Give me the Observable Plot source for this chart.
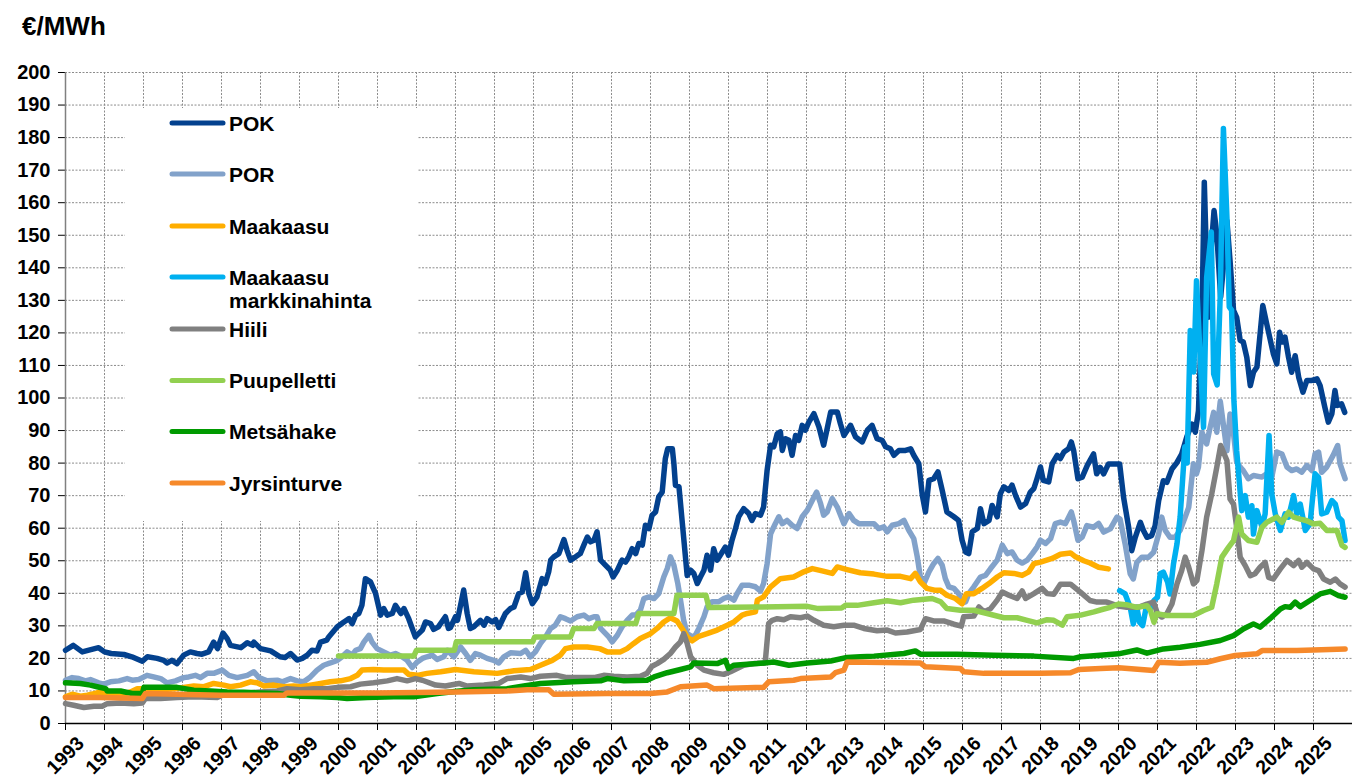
<!DOCTYPE html>
<html><head><meta charset="utf-8">
<script src="https://cdn.jsdelivr.net/npm/d3@7"></script>
<script src="https://cdn.jsdelivr.net/npm/@observablehq/plot@0.6"></script>
<style>
body{margin:0;background:#fff;font-family:"Liberation Sans",Arial,sans-serif;}
#title{height:50px;box-sizing:border-box;padding:13px 0 0 22px;font-weight:bold;font-size:26px;line-height:26px;color:#000;}
</style></head><body>
<div id="title">€/MWh</div>
<div id="chart"></div>
<script>
const yearTicks = d3.range(1993, 2026);
const valueTicks = d3.range(0, 201, 10);
const seriesNames = ["POK","POR","Maakaasu","Maakaasu markkinahinta","Hiili","Puupelletti","Metsähake","Jyrsinturve"];
const seriesColors = ["#03418E","#82A2CA","#FFAE00","#00B0F0","#808080","#92D050","#009A00","#F6892A"];

const POK = [[1993.0,22.5],[1993.2,24],[1993.43,22],[1993.65,22.7],[1993.85,23.3],[1994.0,22],[1994.17,21.5],[1994.5,21.2],[1994.7,20.5],[1994.97,19.1],[1995.1,20.5],[1995.35,20],[1995.52,19.4],[1995.6,18.6],[1995.73,19.4],[1995.86,18.4],[1996.03,21],[1996.2,22],[1996.37,21.5],[1996.5,21.3],[1996.67,22],[1996.8,25],[1996.9,23],[1997.04,27.8],[1997.15,26],[1997.23,24],[1997.5,23.3],[1997.66,24.8],[1997.8,24],[1997.83,25],[1998.0,23],[1998.26,22.3],[1998.5,20.5],[1998.63,20.3],[1998.77,21.5],[1998.94,19.5],[1999.07,20],[1999.2,21],[1999.32,22.5],[1999.45,22.3],[1999.54,25],[1999.7,25.6],[1999.75,26.6],[1999.97,29.7],[2000.14,31.2],[2000.27,32.2],[2000.35,30.7],[2000.44,33.3],[2000.52,33.8],[2000.6,36.3],[2000.69,44.5],[2000.82,43.5],[2000.95,40],[2001.08,33.3],[2001.16,35.3],[2001.25,33.3],[2001.38,33.8],[2001.46,36.3],[2001.6,33.8],[2001.68,35.3],[2001.8,32.2],[2001.97,26.6],[2002.05,27.6],[2002.15,28.7],[2002.23,31.2],[2002.36,30.7],[2002.44,28.9],[2002.56,29.7],[2002.74,32.8],[2002.82,29.2],[2002.87,29.5],[2003.0,32.8],[2003.05,31.7],[2003.21,41],[2003.3,33.8],[2003.38,29.2],[2003.47,29.7],[2003.64,31.7],[2003.73,30.2],[2003.81,32.2],[2003.94,31.2],[2004.03,31.9],[2004.11,29.5],[2004.28,33.8],[2004.41,35.3],[2004.5,35.8],[2004.62,39.9],[2004.71,40.4],[2004.8,46.3],[2004.88,39.9],[2004.97,36.8],[2005.09,38.9],[2005.22,44.5],[2005.3,43],[2005.39,46.6],[2005.44,50.2],[2005.52,51.2],[2005.65,52.2],[2005.78,56.5],[2005.86,53.2],[2005.95,50.2],[2006.08,51.2],[2006.2,52.2],[2006.29,54.8],[2006.38,57.3],[2006.46,55.8],[2006.55,56.3],[2006.63,58.9],[2006.72,50.2],[2006.85,48.6],[2006.97,47.1],[2007.04,45],[2007.15,47.1],[2007.27,50.2],[2007.36,49.6],[2007.44,51.2],[2007.53,53.7],[2007.62,52.2],[2007.7,55.3],[2007.79,54.8],[2007.87,60.9],[2007.96,59.9],[2008.04,64],[2008.13,65],[2008.21,69.6],[2008.3,71.1],[2008.38,81.4],[2008.44,84.4],[2008.56,84.4],[2008.6,79.8],[2008.64,73.2],[2008.73,72.7],[2008.81,62.4],[2008.94,45.5],[2009.03,47.1],[2009.11,46.1],[2009.2,43],[2009.28,45],[2009.37,47.1],[2009.45,51.7],[2009.54,47.1],[2009.62,53.7],[2009.71,50.2],[2009.84,52.7],[2009.92,54.2],[2010.0,51.7],[2010.09,56.3],[2010.18,59.9],[2010.26,63.5],[2010.39,66],[2010.52,64.5],[2010.6,62.4],[2010.69,64.5],[2010.82,64],[2010.9,66.5],[2010.99,77.8],[2011.08,85.5],[2011.16,85],[2011.25,89],[2011.33,89.6],[2011.38,83.9],[2011.46,87.5],[2011.55,87],[2011.63,82.4],[2011.72,88.5],[2011.8,87],[2011.89,91.6],[2011.97,90.1],[2012.06,92.6],[2012.19,95.2],[2012.32,91.1],[2012.44,85.5],[2012.53,90.6],[2012.62,95.7],[2012.79,95.7],[2012.87,92.1],[2012.96,88.5],[2013.13,91.6],[2013.26,88],[2013.43,86.5],[2013.56,90.1],[2013.68,91.6],[2013.81,87.5],[2013.94,87],[2014.03,85],[2014.15,84.4],[2014.24,82.4],[2014.37,83.9],[2014.54,83.9],[2014.67,84.4],[2014.75,82.4],[2014.88,79.8],[2014.97,70.1],[2015.05,65],[2015.14,74.7],[2015.26,75.2],[2015.37,77.3],[2015.48,71.6],[2015.6,65],[2015.78,63.5],[2015.9,62.4],[2015.99,56.3],[2016.08,52.7],[2016.16,52.2],[2016.25,58.9],[2016.38,59.9],[2016.46,66],[2016.55,61.4],[2016.68,62.4],[2016.76,67],[2016.89,63.5],[2016.97,70.6],[2017.06,72.7],[2017.19,71.6],[2017.27,73.2],[2017.36,70.1],[2017.49,66.5],[2017.62,67.6],[2017.74,71.1],[2017.83,72.2],[2017.91,75.2],[2018.0,78.8],[2018.07,74.7],[2018.21,74.2],[2018.3,79.8],[2018.43,82.4],[2018.51,81.4],[2018.6,83.4],[2018.72,84.4],[2018.79,86.5],[2018.85,83.9],[2018.96,75.2],[2019.07,75.7],[2019.2,79.3],[2019.36,82.8],[2019.44,76.7],[2019.53,78.7],[2019.62,76.7],[2019.74,79.7],[2019.87,79.7],[2020.03,79.7],[2020.13,69.5],[2020.26,60.3],[2020.34,53.1],[2020.43,57.2],[2020.56,61.8],[2020.64,59.3],[2020.73,57.2],[2020.85,57.7],[2020.94,60.8],[2021.03,68.5],[2021.15,74.6],[2021.24,74.1],[2021.37,78.2],[2021.5,80.2],[2021.62,82.8],[2021.75,88],[2021.88,92],[2021.97,89.5],[2022.05,96],[2022.14,124.8],[2022.2,166.3],[2022.3,124.8],[2022.37,145],[2022.45,157.6],[2022.52,150.4],[2022.62,131],[2022.72,144.3],[2022.78,154.5],[2022.86,142.2],[2022.95,126.9],[2023.03,124.8],[2023.12,117.7],[2023.2,117.2],[2023.29,112.5],[2023.38,103.8],[2023.46,107.9],[2023.55,109.5],[2023.7,128.4],[2023.8,122.8],[2023.97,113.6],[2024.06,110.5],[2024.13,120.2],[2024.19,117.2],[2024.27,118.7],[2024.36,112.5],[2024.44,107.9],[2024.53,113],[2024.62,106.4],[2024.73,101.8],[2024.83,105.4],[2024.96,105.4],[2025.09,105.9],[2025.17,103.8],[2025.29,97.2],[2025.38,92.6],[2025.47,95.1],[2025.55,102.3],[2025.61,97.7],[2025.72,98.2],[2025.8,95.6]];

const POR = [[1993.0,13.3],[1993.17,14.1],[1993.34,13.8],[1993.51,13.1],[1993.64,13.5],[1993.85,12.5],[1993.98,12.1],[1994.15,12.8],[1994.37,13.1],[1994.58,13.8],[1994.71,13.3],[1994.88,13.5],[1995.09,14.8],[1995.26,14.3],[1995.44,13.8],[1995.6,12.5],[1995.82,13.1],[1996.03,14.1],[1996.16,14.3],[1996.33,14.8],[1996.46,14.1],[1996.63,15.4],[1996.8,15.4],[1997.02,16.4],[1997.19,14.8],[1997.4,14.1],[1997.66,14.8],[1997.83,15.9],[1997.96,14.1],[1998.17,13.1],[1998.43,13.3],[1998.56,12.8],[1998.77,13.8],[1998.94,13.1],[1999.11,12.8],[1999.28,14.3],[1999.45,16.4],[1999.62,17.9],[1999.79,18.6],[1999.97,19.4],[2000.09,20.5],[2000.22,22],[2000.35,21],[2000.44,22.5],[2000.56,23],[2000.65,25],[2000.78,27.1],[2000.86,25],[2000.99,23],[2001.16,22],[2001.33,21],[2001.46,21.5],[2001.63,20.5],[2001.76,19.4],[2001.89,17.2],[2002.02,18.9],[2002.15,20],[2002.27,20.5],[2002.4,21],[2002.53,19.7],[2002.7,20.5],[2002.79,22.5],[2002.96,20.5],[2003.13,23.5],[2003.26,21.5],[2003.38,19.4],[2003.51,21.5],[2003.64,21],[2003.81,20],[2003.98,19.4],[2004.11,18.6],[2004.24,20.5],[2004.41,21.7],[2004.67,21.5],[2004.8,22.5],[2004.92,20.5],[2005.05,22],[2005.18,24.6],[2005.31,26.6],[2005.44,29.2],[2005.56,30.2],[2005.69,32.8],[2005.82,32.2],[2005.95,31.5],[2006.12,32.8],[2006.29,33.3],[2006.42,32.2],[2006.55,32.8],[2006.63,32.8],[2006.72,29.2],[2006.85,27.6],[2006.93,26.6],[2007.02,25.1],[2007.15,27.1],[2007.27,29.7],[2007.4,31.7],[2007.53,33.3],[2007.62,33.3],[2007.74,34.8],[2007.83,38.4],[2007.96,38.9],[2008.09,38.4],[2008.21,39.9],[2008.34,45],[2008.43,47.6],[2008.51,51.2],[2008.6,48.6],[2008.7,43],[2008.77,37.9],[2008.85,31.7],[2008.94,27.6],[2009.07,26.6],[2009.15,27.1],[2009.24,29.2],[2009.37,32.8],[2009.45,35.8],[2009.58,37.4],[2009.75,37.4],[2009.88,38.4],[2010.0,38.9],[2010.14,37.9],[2010.22,39.9],[2010.35,42.5],[2010.52,42.5],[2010.69,42],[2010.82,40.7],[2010.9,43],[2010.99,49.1],[2011.08,58.3],[2011.2,61.4],[2011.29,63.5],[2011.38,61.4],[2011.5,62.4],[2011.63,60.9],[2011.76,59.9],[2011.89,63.5],[2012.02,65.5],[2012.15,68.6],[2012.26,71.1],[2012.36,67.6],[2012.44,64],[2012.53,65],[2012.66,69.1],[2012.79,66.5],[2012.96,61.4],[2013.09,64.5],[2013.21,62.4],[2013.34,61.4],[2013.55,61.4],[2013.73,61.4],[2013.85,59.9],[2013.98,60.4],[2014.07,58.9],[2014.2,60.9],[2014.37,61.4],[2014.5,62.4],[2014.62,59.4],[2014.75,56.8],[2014.84,51.2],[2014.92,45],[2015.01,43],[2015.14,46.6],[2015.26,49.1],[2015.37,50.7],[2015.48,48.6],[2015.56,44.5],[2015.65,42],[2015.78,41.5],[2015.9,39.9],[2015.99,37.1],[2016.08,37.4],[2016.16,39.9],[2016.29,42],[2016.46,45],[2016.59,45.5],[2016.72,47.6],[2016.89,50.2],[2017.02,54.8],[2017.15,52.2],[2017.27,52.7],[2017.4,50.2],[2017.53,49.3],[2017.66,50.2],[2017.79,52.2],[2017.91,54.2],[2018.0,56.3],[2018.13,55.3],[2018.26,56.8],[2018.38,61.4],[2018.51,61.9],[2018.64,61.4],[2018.79,65],[2018.85,62.4],[2018.96,56.3],[2019.07,57.3],[2019.19,60.8],[2019.36,60.3],[2019.49,61.5],[2019.62,58.8],[2019.79,59.8],[2019.96,63.4],[2020.04,62.8],[2020.17,55.2],[2020.3,46],[2020.38,44.4],[2020.47,49.5],[2020.6,51.1],[2020.77,51.1],[2020.9,52.6],[2021.03,58.2],[2021.11,63.4],[2021.2,59.3],[2021.32,57.2],[2021.45,57.2],[2021.58,59.3],[2021.71,63.4],[2021.8,66.4],[2021.92,79.8],[2022.0,76.7],[2022.05,78.8],[2022.14,89.5],[2022.26,85.9],[2022.35,91],[2022.44,95.6],[2022.52,89.5],[2022.61,99],[2022.71,90],[2022.78,83.8],[2022.86,95.1],[2022.95,89],[2023.03,80.3],[2023.12,78.8],[2023.2,77.7],[2023.33,75.2],[2023.46,76.2],[2023.68,75.7],[2023.8,76.7],[2023.93,75.7],[2024.06,83.4],[2024.19,82.8],[2024.32,78.8],[2024.44,77.7],[2024.57,78.2],[2024.7,77.2],[2024.83,79.3],[2024.96,77.7],[2025.04,82.8],[2025.13,83.4],[2025.21,77.2],[2025.34,78.8],[2025.5,82.3],[2025.62,85.4],[2025.68,79.8],[2025.81,75.2]];

const MAAKAASU = [[1993.0,8.2],[1993.17,9],[1993.38,8.4],[1993.56,8.7],[1993.73,9.2],[1993.9,9.7],[1994.07,8.7],[1994.41,8.7],[1994.67,9.7],[1994.84,10.7],[1995.09,10.7],[1995.44,10.4],[1995.78,10.7],[1996.03,11.1],[1996.29,11.5],[1996.55,11.3],[1996.8,12.3],[1997.06,11.8],[1997.23,11.3],[1997.49,11.8],[1997.74,12.8],[1997.91,12.5],[1998.09,11.5],[1998.34,11.8],[1998.6,11.3],[1998.85,11.5],[1999.03,11.3],[1999.28,11.8],[1999.54,12.3],[1999.79,12.8],[2000.05,13.1],[2000.31,13.8],[2000.48,14.8],[2000.6,16.4],[2000.9,16.6],[2001.16,16.4],[2001.42,16.4],[2001.68,16.4],[2001.8,15.1],[2002.02,14.8],[2002.27,15.4],[2002.62,15.9],[2003.0,16.6],[2003.47,15.9],[2004.07,15.4],[2004.5,16.2],[2004.92,16.6],[2005.18,17.9],[2005.48,19.4],[2005.69,21],[2005.82,23],[2006.03,23.5],[2006.38,23.5],[2006.7,23],[2006.89,22],[2007.23,22],[2007.4,23],[2007.57,24.6],[2007.74,26.1],[2008.0,27.6],[2008.17,29.2],[2008.34,31.2],[2008.51,32.5],[2008.68,31.5],[2008.81,29.2],[2008.94,26.6],[2009.07,25.4],[2009.24,26.8],[2009.45,27.6],[2009.71,28.7],[2009.97,30.2],[2010.14,31.2],[2010.35,33.3],[2010.48,33.8],[2010.69,34.3],[2010.74,37.9],[2010.9,38.9],[2011.08,42],[2011.33,44.5],[2011.67,45],[2011.93,46.6],[2012.15,47.6],[2012.4,46.9],[2012.66,46.1],[2012.79,48.1],[2013.04,47.3],[2013.38,46.3],[2013.73,45.9],[2014.07,45.2],[2014.41,45.2],[2014.67,44.5],[2014.79,46.1],[2014.92,43.5],[2015.09,41.5],[2015.31,40.9],[2015.44,40.9],[2015.6,39.4],[2015.82,38.4],[2015.99,36.8],[2016.1,39.9],[2016.29,39.9],[2016.5,41.5],[2016.68,43],[2016.89,45],[2017.06,46.3],[2017.32,46.1],[2017.53,45.5],[2017.7,46.6],[2017.83,49.1],[2018.0,49.6],[2018.3,50.7],[2018.51,52],[2018.77,52.4],[2018.9,51.2],[2019.11,50],[2019.27,49.3],[2019.49,48],[2019.74,47.5]];

const MARKKINA = [[2020.03,40.8],[2020.17,39.8],[2020.3,35.7],[2020.38,30.6],[2020.47,35.7],[2020.54,31.1],[2020.62,30.1],[2020.71,35.7],[2020.81,35.2],[2020.91,37.8],[2021.0,38.8],[2021.07,46],[2021.15,46.5],[2021.26,43.4],[2021.32,39.8],[2021.41,49],[2021.5,55.2],[2021.58,63.4],[2021.7,85],[2021.76,80],[2021.84,120.7],[2021.93,108],[2022.0,136],[2022.18,91],[2022.26,137],[2022.38,151],[2022.44,107.4],[2022.53,104],[2022.61,132],[2022.69,182.8],[2022.78,155.6],[2022.84,128],[2022.9,127],[2022.96,99],[2023.03,83.8],[2023.16,65.4],[2023.25,70],[2023.33,63.4],[2023.42,66.9],[2023.46,58.2],[2023.55,65.4],[2023.68,60.3],[2023.76,64.4],[2023.86,88.5],[2023.93,70.5],[2024.02,64.4],[2024.15,59.3],[2024.27,64.4],[2024.36,63.4],[2024.49,70],[2024.57,64.4],[2024.66,67.4],[2024.79,59.3],[2024.91,61.3],[2025.04,76.7],[2025.13,75.6],[2025.21,64.4],[2025.34,64.9],[2025.47,68.5],[2025.56,67.4],[2025.64,63.4],[2025.73,62.3],[2025.81,56.2]];

const HIILI = [[1993.0,6.1],[1993.21,5.6],[1993.47,4.9],[1993.73,5.3],[1993.94,5.3],[1994.07,6.1],[1994.41,6.3],[1994.75,6.1],[1994.97,6.3],[1995.05,7.7],[1995.44,7.7],[1995.86,8],[1996.29,8.2],[1996.89,8],[1997.02,8.7],[1997.57,9.2],[1998.0,9.7],[1998.43,10],[1998.68,10.7],[1999.03,10.4],[1999.37,10.7],[1999.7,10.7],[1999.97,11.1],[2000.31,11.3],[2000.56,12.1],[2000.9,12.5],[2001.25,13.1],[2001.5,13.8],[2001.76,13.1],[2001.97,13.8],[2002.15,13.3],[2002.49,11.8],[2002.74,11.5],[2003.09,12.3],[2003.3,11.5],[2003.73,11.8],[2004.11,12.3],[2004.32,13.8],[2004.67,14.3],[2004.92,13.8],[2005.18,14.5],[2005.6,14.8],[2005.86,14.1],[2006.2,14.1],[2006.55,14.1],[2006.8,14.8],[2007.06,14.5],[2007.4,14.3],[2007.74,14.5],[2007.91,15.4],[2008.04,17.6],[2008.17,18.4],[2008.34,19.7],[2008.51,21.5],[2008.64,23.5],[2008.77,25.1],[2008.85,27.6],[2008.94,24.6],[2009.03,20.5],[2009.2,17.9],[2009.37,16.4],[2009.62,15.6],[2009.88,15.1],[2010.05,15.9],[2010.22,16.9],[2010.39,17.9],[2010.65,18.4],[2010.94,18.6],[2011.03,30.7],[2011.12,31.7],[2011.25,32.2],[2011.42,31.9],[2011.59,32.8],[2011.85,32.5],[2012.02,33],[2012.19,31.7],[2012.44,30.2],[2012.7,29.7],[2012.96,30.2],[2013.21,30.2],[2013.47,29.2],[2013.81,28.5],[2014.07,28.7],[2014.28,27.8],[2014.58,28.1],[2014.92,28.9],[2015.05,32.2],[2015.26,31.5],[2015.52,31.5],[2015.78,30.5],[2015.97,29.9],[2016.03,32.8],[2016.29,33],[2016.42,35.8],[2016.55,34.3],[2016.72,35.3],[2016.89,37.9],[2017.02,40.4],[2017.19,39.4],[2017.4,38.4],[2017.53,40.7],[2017.62,38.4],[2017.83,39.9],[2018.04,41.5],[2018.17,39.9],[2018.34,39.7],[2018.51,42.8],[2018.77,42.8],[2019.03,40.3],[2019.27,37.8],[2019.45,37.3],[2019.7,37.3],[2019.96,36.2],[2020.21,35.7],[2020.51,35.7],[2020.73,36.7],[2020.9,37.3],[2021.0,33.7],[2021.11,32.7],[2021.24,33.7],[2021.37,36.7],[2021.5,42.9],[2021.62,47],[2021.71,51.1],[2021.8,48],[2021.92,42.9],[2022.01,43.9],[2022.14,53.1],[2022.26,63.4],[2022.39,70.5],[2022.52,78.7],[2022.62,85.4],[2022.78,80.8],[2022.86,69],[2022.95,67.4],[2023.03,60.3],[2023.12,51.1],[2023.25,48.5],[2023.38,45.4],[2023.5,46],[2023.63,48],[2023.76,49.5],[2023.85,44.9],[2023.97,44.4],[2024.15,47.5],[2024.32,50.1],[2024.49,48.5],[2024.62,50.1],[2024.7,48],[2024.83,49.5],[2025.0,47.5],[2025.13,47],[2025.26,44.4],[2025.43,43.4],[2025.56,44.4],[2025.68,42.9],[2025.81,41.9]];

const PUUPELLETTI = [[2000.0,20.7],[2001.93,20.7],[2002.0,22.5],[2002.97,22.5],[2003.02,25.1],[2004.98,25.1],[2005.03,26.6],[2005.95,26.6],[2006.03,29.2],[2006.55,29.2],[2006.63,30.7],[2007.62,30.7],[2007.7,33.8],[2008.6,33.8],[2008.68,39.4],[2009.42,39.4],[2009.5,35.6],[2010.74,35.8],[2012.02,36],[2012.3,35.3],[2012.9,35.5],[2013.0,36.3],[2013.3,36.3],[2013.73,37.1],[2014.07,37.7],[2014.41,37.1],[2014.75,37.9],[2015.22,38.4],[2015.44,37.4],[2015.6,35.3],[2015.95,34.8],[2016.29,34.8],[2016.63,33.8],[2017.06,32.5],[2017.4,32.5],[2017.66,31.7],[2017.91,30.9],[2018.17,31.9],[2018.34,31.7],[2018.56,30.2],[2018.68,32.8],[2019.03,33.3],[2019.37,34.3],[2019.6,35.1],[2019.79,35.7],[2020.0,36.7],[2020.2,36.5],[2020.47,35.7],[2020.73,36.2],[2020.82,34.7],[2020.91,31.1],[2020.98,33.7],[2021.24,33.2],[2021.58,33.2],[2021.92,33.2],[2022.18,34.7],[2022.39,35.7],[2022.52,42.9],[2022.65,51.1],[2022.82,54.1],[2022.95,56.2],[2023.08,63.4],[2023.16,58.2],[2023.33,56.2],[2023.55,55.7],[2023.68,60.3],[2023.8,61.8],[2024.06,63.4],[2024.19,61.8],[2024.36,64.9],[2024.49,63.4],[2024.66,62.8],[2024.83,62.3],[2025.0,61.3],[2025.17,61.5],[2025.34,59.3],[2025.6,59.3],[2025.73,54.7],[2025.81,54.1]];

const METSAHAKE = [[1993.0,12.5],[1993.38,12.3],[1993.64,11.8],[1993.81,11.3],[1994.03,10.7],[1994.07,10],[1994.41,10],[1994.71,9.2],[1994.97,9.2],[1995.01,11.1],[1995.44,11.1],[1995.86,11.1],[1996.29,10.2],[1996.72,10],[1997.15,9.7],[1997.57,9.6],[1998.0,9.4],[1998.43,9.2],[1998.77,8.7],[1999.03,8.4],[1999.54,8.2],[1999.97,8],[2000.22,7.7],[2000.73,8],[2001.42,8.2],[2001.93,8.2],[2002.53,9.2],[2003.04,9.9],[2003.47,10.4],[2004.32,10.7],[2004.75,11.5],[2005.18,12.3],[2006.03,12.8],[2006.72,13.1],[2006.89,13.8],[2007.32,13.1],[2007.91,13.3],[2008.09,14.3],[2008.43,15.6],[2008.77,16.6],[2009.03,17.4],[2009.11,18.6],[2009.71,18.4],[2009.92,19.4],[2010.0,16.9],[2010.14,17.9],[2010.74,18.4],[2011.16,18.9],[2011.55,17.9],[2012.02,18.6],[2012.62,19.2],[2013.04,20.3],[2013.38,20.5],[2013.73,20.7],[2014.5,21.5],[2014.79,22.3],[2014.92,21.3],[2015.86,21.3],[2016.8,21],[2017.83,20.7],[2018.85,20],[2019.03,20.5],[2019.53,21],[2020.0,21.4],[2020.47,22.6],[2020.73,21.6],[2021.15,22.9],[2021.58,23.4],[2022.09,24.3],[2022.61,25.5],[2022.95,27],[2023.21,29.1],[2023.46,30.6],[2023.63,29.6],[2023.93,32.7],[2024.15,35.2],[2024.27,35.9],[2024.4,35.7],[2024.53,37.3],[2024.66,35.9],[2024.91,37.8],[2025.17,39.8],[2025.43,40.6],[2025.64,39.3],[2025.81,38.8]];

const JYRSINTURVE = [[1993.0,8],[1993.9,8],[1994.97,7.7],[1995.05,9.2],[1995.86,9],[1996.97,8.7],[1998.6,8.7],[1998.68,9.4],[2001.0,9.4],[2003.04,9.7],[2004.32,10],[2004.84,10.4],[2005.39,10.4],[2005.52,9],[2006.89,9.2],[2008.0,9.2],[2008.43,9.7],[2008.77,11.3],[2009.45,11.8],[2009.62,10.7],[2010.9,11.1],[2011.03,12.8],[2011.67,13.3],[2011.85,13.8],[2012.62,14.3],[2012.74,15.6],[2012.96,16.4],[2013.04,18.9],[2014.92,18.6],[2015.05,17.4],[2015.95,16.9],[2016.03,15.9],[2016.55,15.4],[2018.0,15.4],[2018.77,15.6],[2018.98,16.6],[2019.54,16.9],[2020.0,17.1],[2020.9,16.3],[2021.03,18.8],[2021.58,18.5],[2022.26,18.8],[2022.61,19.9],[2022.99,20.9],[2023.55,21.4],[2023.68,22.4],[2024.57,22.4],[2025.0,22.6],[2025.81,22.9]];

const seriesData = [POK, POR, MAAKAASU, MARKKINA, HIILI, PUUPELLETTI, METSAHAKE, JYRSINTURVE];
const rows = seriesData.flatMap((arr, i) => arr.map(([t, v]) => ({name: seriesNames[i], t, v})));

const FONT = '"Liberation Sans", Arial, sans-serif';
const gridStyle = {stroke: "#8c8c8c", strokeOpacity: 1, strokeWidth: 1, strokeDasharray: "2,1.5"};

const plot = Plot.plot({
  width: 1352, height: 733,
  marginTop: 22, marginBottom: 60, marginLeft: 65, marginRight: 0,
  x: {domain: [1993, 2026]},
  y: {domain: [0, 200]},
  color: {domain: seriesNames, range: seriesColors},
  style: {fontFamily: FONT, fontSize: "20px", fontWeight: "bold", color: "#000", background: "#fff", overflow: "visible"},
  marks: [
    Plot.gridY({ticks: valueTicks.filter(d => d > 0), ...gridStyle}),
    Plot.gridX({ticks: yearTicks.filter(d => d > 1993), ...gridStyle}),
    Plot.axisY({ticks: valueTicks, tickSize: 7, tickPadding: 8, stroke: "#000", label: null, tickFormat: d => String(d), fontSize: 20}),
    Plot.axisX({ticks: yearTicks, tickSize: 7, stroke: "#000", label: null, tickFormat: () => ""}),
    Plot.text(yearTicks, {x: d => d, y: 0, text: d => String(d), rotate: -45, textAnchor: "middle", dx: 0, dy: 32, fontSize: 19.5, fontWeight: "bold", fill: "#000"}),
    Plot.ruleX([1993], {stroke: "#808080", strokeWidth: 1.5}),
    Plot.ruleY([0], {stroke: "#000", strokeWidth: 1.5}),
    Plot.line(rows, {x: "t", y: "v", z: "name", stroke: "name", strokeWidth: 5.5, strokeLinejoin: "round", strokeLinecap: "round"})
  ]
});
document.getElementById("chart").appendChild(plot);

// Legend (inside plot area, white box)
const OFF = 50;
const svg = d3.select(plot);
const lg = svg.append("g").attr("font-family", FONT).attr("font-weight", "bold").attr("font-size", 21).attr("text-anchor", "start");
lg.append("rect").attr("x", 125).attr("y", 108 - OFF).attr("width", 293).attr("height", 413).attr("fill", "#fff");
const legendY = [123, 174, 226, 277, 329, 380.5, 431.5, 483];
seriesNames.forEach((name, i) => {
  const cy = legendY[i] - OFF;
  lg.append("line").attr("x1", 172).attr("x2", 223).attr("y1", cy).attr("y2", cy)
    .attr("stroke", seriesColors[i]).attr("stroke-width", 5).attr("stroke-linecap", "round");
  const t = lg.append("text").attr("x", 229).attr("y", cy + 7.5).attr("fill", "#000").attr("text-anchor", "start");
  if (name === "Maakaasu markkinahinta") {
    t.append("tspan").attr("x", 229).text("Maakaasu");
    t.append("tspan").attr("x", 229).attr("dy", 23.5).text("markkinahinta");
  } else {
    t.text(name);
  }
});
</script>
</body></html>
